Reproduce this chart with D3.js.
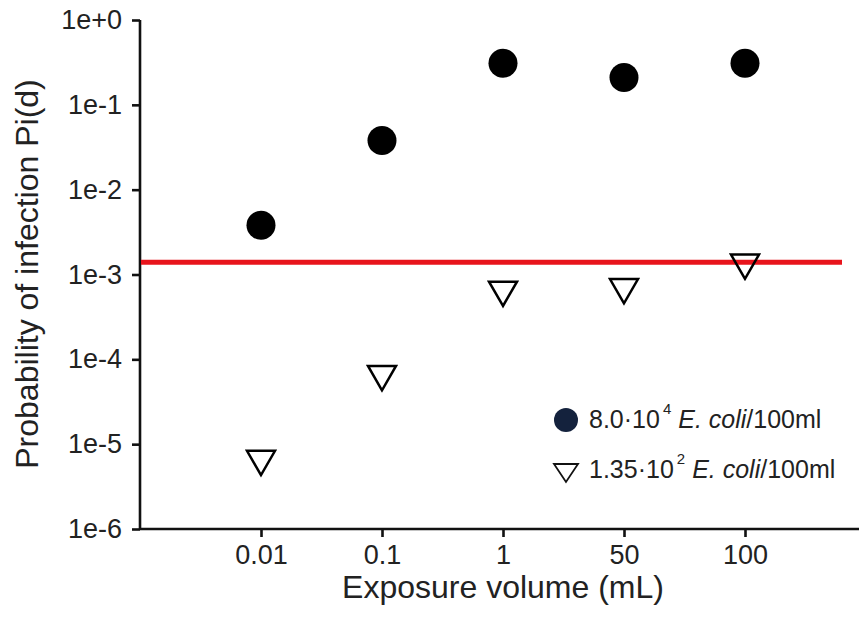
<!DOCTYPE html>
<html>
<head>
<meta charset="utf-8">
<script src="https://cdn.jsdelivr.net/npm/d3@7"></script>
<style>
  body { margin: 0; background: #fff; }
  text { font-family: "Liberation Sans", Arial, sans-serif; fill: #222; }
</style>
</head>
<body>
<div id="chart"></div>
<script>
// exposure volumes (mL), shown as evenly spaced categories
const volumes = ['0.01', '0.1', '1', '50', '100'];
// probability of infection for the two E. coli concentrations
const highConc = [3.8e-3, 3.8e-2, 0.31, 0.21, 0.31];
const lowConc = [6.7e-6, 6.7e-5, 6.6e-4, 7.1e-4, 1.38e-3];
// acceptable risk threshold (red line)
const threshold = 1.39e-3;
const yTicks = [1, 1e-1, 1e-2, 1e-3, 1e-4, 1e-5, 1e-6];
const yTickLabels = ['1e+0', '1e-1', '1e-2', '1e-3', '1e-4', '1e-5', '1e-6'];
const legendItems = [
  { sym: 'circle', base: '8.0·10', exp: '4' },
  { sym: 'tri', base: '1.35·10', exp: '2' }
];

const width = 859, height = 618;
const plotLeft = 140, plotTop = 20, plotBottom = 529, plotRight = 859;

const svg = d3.select('#chart')
  .append('svg')
    .attr('width', width)
    .attr('height', height);

const x = d3.scalePoint()
    .domain(volumes)
    .range([plotLeft, 866])
    .padding(1);

const y = d3.scaleLog()
    .domain([1e-6, 1])
    .range([plotBottom, plotTop]);

// y axis
const yAxis = svg.append('g')
    .attr('transform', `translate(${plotLeft},0)`)
    .call(d3.axisLeft(y)
      .tickValues(yTicks)
      .tickFormat((d, i) => yTickLabels[i])
      .tickSize(8)
      .tickPadding(10));
yAxis.select('.domain').attr('d', `M0,${plotTop}V${plotBottom}`);

// x axis
const xAxis = svg.append('g')
    .attr('transform', `translate(0,${plotBottom})`)
    .call(d3.axisBottom(x)
      .tickSize(8)
      .tickPadding(8));
xAxis.select('.domain').attr('d', `M${plotLeft},0H${plotRight}`);

svg.selectAll('.domain, .tick line')
    .attr('stroke', '#111')
    .attr('stroke-width', 2.6);
svg.selectAll('.tick text')
    .attr('font-size', 27)
    .attr('font-family', '"Liberation Sans", Arial, sans-serif')
    .attr('fill', '#222');

// threshold line
svg.append('line')
    .attr('x1', plotLeft + 1)
    .attr('x2', 842)
    .attr('y1', y(threshold))
    .attr('y2', y(threshold))
    .attr('stroke', '#e8141c')
    .attr('stroke-width', 5);

// filled circles
svg.selectAll('circle.high')
    .data(highConc)
    .enter()
    .append('circle')
      .attr('class', 'high')
      .attr('cx', (d, i) => x(volumes[i]))
      .attr('cy', d => y(d))
      .attr('r', 14.5)
      .attr('fill', '#000');

// open down triangles
const tri = d3.symbol().type(d3.symbolTriangle).size(340);
svg.selectAll('path.low')
    .data(lowConc)
    .enter()
    .append('path')
      .attr('class', 'low')
      .attr('d', tri)
      .attr('transform', (d, i) => `translate(${x(volumes[i])},${y(d)}) rotate(180)`)
      .attr('fill', 'none')
      .attr('stroke', '#000')
      .attr('stroke-width', 2.5);

// legend
const legend = svg.selectAll('g.legend')
    .data(legendItems)
    .enter()
    .append('g')
      .attr('class', 'legend')
      .attr('transform', (d, i) => `translate(566,${420 + i * 50})`);

legend.filter(d => d.sym === 'circle')
  .append('circle')
    .attr('r', 12)
    .attr('fill', '#14223d');
legend.filter(d => d.sym === 'tri')
  .append('path')
    .attr('d', 'M-12,-6H12L0,12Z')
    .attr('fill', 'none')
    .attr('stroke', '#111')
    .attr('stroke-width', 1.8);

const lt = legend.append('text')
    .attr('x', 23)
    .attr('y', 8)
    .attr('font-size', 25);
lt.append('tspan').text(d => d.base);
lt.append('tspan')
    .attr('dx', 3)
    .attr('dy', -14)
    .attr('font-size', 15)
    .text(d => d.exp);
lt.append('tspan')
    .attr('dx', 7)
    .attr('dy', 14)
    .attr('font-style', 'italic')
    .text('E. coli');
lt.append('tspan').text('/100ml');

// axis titles
svg.append('text')
    .attr('x', 503)
    .attr('y', 598)
    .attr('text-anchor', 'middle')
    .attr('font-size', 32)
    .text('Exposure volume (mL)');

svg.append('text')
    .attr('transform', 'translate(38,274) rotate(-90)')
    .attr('text-anchor', 'middle')
    .attr('font-size', 32)
    .text('Probability of infection Pi(d)');
</script>
</body>
</html>
